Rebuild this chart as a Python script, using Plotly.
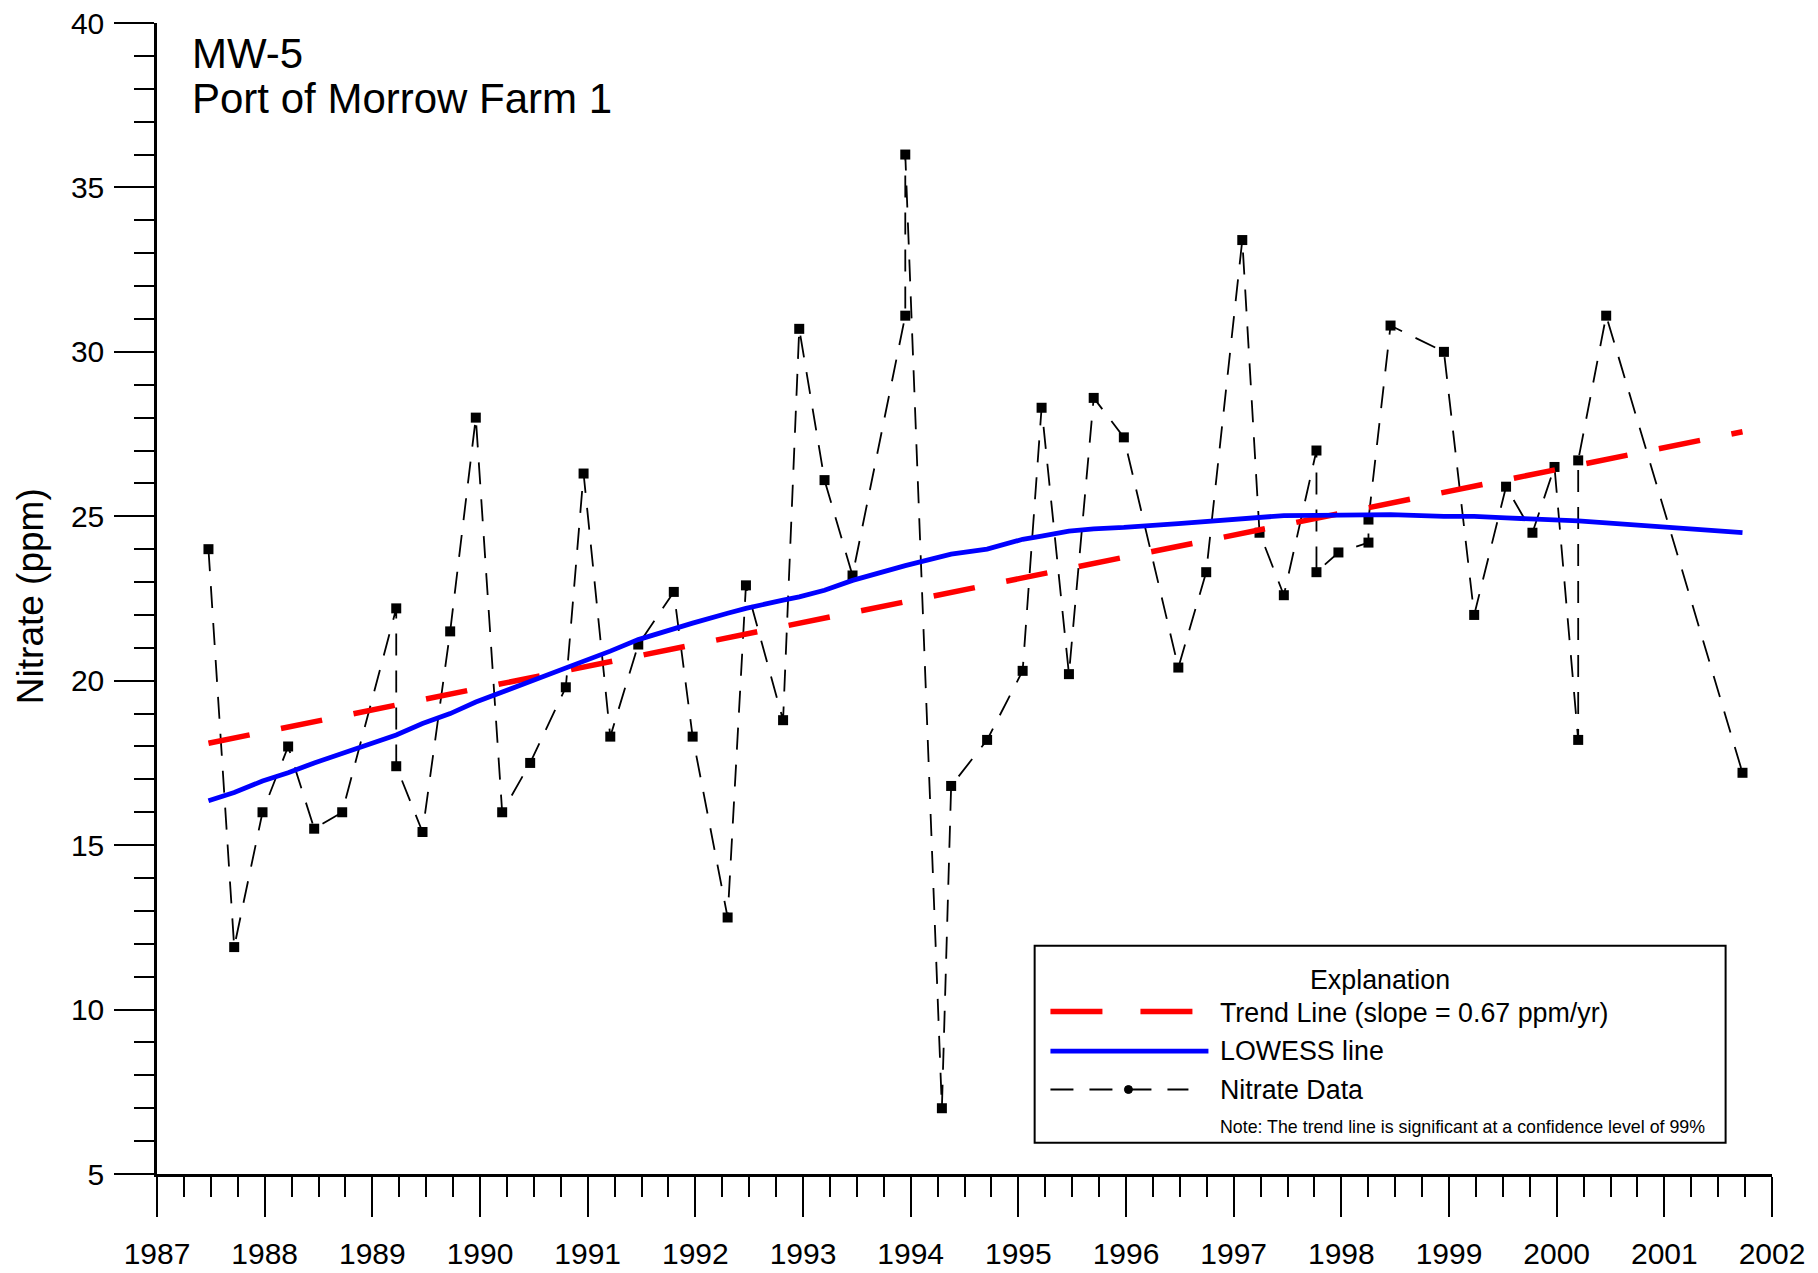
import plotly.graph_objects as go

# ---------------- data ----------------
dates = [1987.478, 1987.717, 1987.98, 1988.218, 1988.46, 1988.72, 1989.222, 1989.222,
         1989.466, 1989.723, 1989.961, 1990.206, 1990.466, 1990.797, 1990.962, 1991.21,
         1991.47, 1991.80, 1991.975, 1992.30, 1992.47, 1992.815, 1992.965, 1993.20,
         1993.46, 1993.95, 1993.95, 1994.29, 1994.376, 1994.71, 1995.04, 1995.216,
         1995.47, 1995.70, 1995.98, 1996.486, 1996.745, 1997.08, 1997.24, 1997.466,
         1997.769, 1997.769, 1997.973, 1998.252, 1998.252, 1998.457, 1998.953, 1999.234,
         1999.53, 1999.775, 1999.98, 2000.2, 2000.2, 2000.46, 2001.726]
nitrate = [24.0, 11.9, 16.0, 18.0, 15.5, 16.0, 22.2, 17.4,
           15.4, 21.5, 28.0, 16.0, 17.5, 19.8, 26.3, 18.3,
           21.1, 22.7, 18.3, 12.8, 22.9, 18.8, 30.7, 26.1,
           23.2, 31.1, 36.0, 7.0, 16.8, 18.2, 20.3, 28.3,
           20.2, 28.6, 27.4, 20.4, 23.3, 33.4, 24.5, 22.6,
           27.0, 23.3, 23.9, 24.2, 24.9, 30.8, 30.0, 22.0,
           25.9, 24.5, 26.5, 18.2, 26.7, 31.1, 17.2]

lowess_dates = sorted(set(dates))
lowess_values = [16.35, 16.6, 16.95, 17.2, 17.5, 17.8, 18.35, 18.7, 19.0, 19.35,
                 19.65, 20.0, 20.4, 20.6, 20.9, 21.25, 21.6, 21.75,
                 22.05, 22.2, 22.45, 22.55, 22.75, 23.05, 23.5,
                 23.8, 23.85, 24.0, 24.3, 24.4, 24.55, 24.62, 24.66,
                 24.78, 24.85, 24.92, 24.97, 25.02, 25.03, 25.03, 25.05, 25.05,
                 25.0, 25.0, 24.95, 24.93, 24.88, 24.86, 24.8, 24.5]

trend_dates = [1987.478, 2001.726]
trend_values = [18.1, 27.57]

year_ticks = list(range(1987, 2003))
y_ticks = [5, 10, 15, 20, 25, 30, 35, 40]

title_lines = ["MW-5", "Port of Morrow Farm 1"]
y_title = "Nitrate (ppm)"
legend_title = "Explanation"
legend_labels = ["Trend Line (slope = 0.67 ppm/yr)", "LOWESS line", "Nitrate Data"]
legend_note = "Note: The trend line is significant at a confidence level of 99%"

# ---------------- figure ----------------
FONT = "Liberation Sans, Arial, Helvetica, sans-serif"
W, H = 1818, 1273
ML, MR, MT, MB = 156.5, 46.4, 23.2, 98.5

fig = go.Figure()

fig.add_trace(go.Scatter(
    x=dates, y=nitrate, mode="lines+markers",
    line=dict(color="black", width=1.8, dash="22px,15px"),
    marker=dict(symbol="square", size=10, color="black"),
    showlegend=False, cliponaxis=False))

fig.add_trace(go.Scatter(
    x=trend_dates, y=trend_values, mode="lines",
    line=dict(color="#FF0000", width=5.5, dash="42px,32px"),
    showlegend=False))

fig.add_trace(go.Scatter(
    x=lowess_dates, y=lowess_values, mode="lines",
    line=dict(color="#0000FF", width=4.8),
    showlegend=False))

axis_common = dict(
    showline=True, linecolor="black", linewidth=2.5, mirror=False,
    showgrid=False, zeroline=False,
    ticks="outside", ticklen=40, tickwidth=2, tickcolor="black",
    tickfont=dict(family=FONT, size=30, color="black"),
)

fig.update_xaxes(
    range=[1987, 2002], tickvals=year_ticks, tickformat="d",
    minor=dict(dtick=0.25, tick0=1987, ticks="outside", ticklen=20,
               tickwidth=2, tickcolor="black", showgrid=False),
    ticklabelstandoff=11,
    **axis_common)

fig.update_yaxes(
    range=[5, 40], tickvals=y_ticks,
    minor=dict(dtick=1, tick0=5, ticks="outside", ticklen=20,
               tickwidth=2, tickcolor="black", showgrid=False),
    ticklabelstandoff=4,
    **axis_common)

pw = W - ML - MR
ph = H - MT - MB


def px_x(px):
    return (px - ML) / pw


def px_y(py):
    return (H - MB - py) / ph


annotations = [
    dict(text=title_lines[0], x=px_x(190), y=px_y(53.5), xanchor="left", yanchor="middle",
         font=dict(family=FONT, size=42, color="black")),
    dict(text=title_lines[1], x=px_x(190), y=px_y(99), xanchor="left", yanchor="middle",
         font=dict(family=FONT, size=42, color="black")),
    dict(text=y_title, x=px_x(30), y=px_y(597), textangle=-90, xanchor="center",
         yanchor="middle", font=dict(family=FONT, size=37, color="black")),
    dict(text=legend_title, x=px_x(1380), y=px_y(980), xanchor="center", yanchor="middle",
         font=dict(family=FONT, size=26.8, color="black")),
    dict(text=legend_labels[0], x=px_x(1218), y=px_y(1013), xanchor="left", yanchor="middle",
         font=dict(family=FONT, size=26.8, color="black")),
    dict(text=legend_labels[1], x=px_x(1218), y=px_y(1051.5), xanchor="left", yanchor="middle",
         font=dict(family=FONT, size=26.8, color="black")),
    dict(text=legend_labels[2], x=px_x(1218), y=px_y(1090), xanchor="left", yanchor="middle",
         font=dict(family=FONT, size=26.8, color="black")),
    dict(text=legend_note, x=px_x(1218), y=px_y(1127), xanchor="left", yanchor="middle",
         font=dict(family=FONT, size=17.8, color="black")),
]
for a in annotations:
    a.update(xref="paper", yref="paper", showarrow=False)

shapes = [
    dict(type="rect", x0=px_x(1034.2), x1=px_x(1725.2), y0=px_y(1143.2), y1=px_y(946.1),
         line=dict(color="black", width=2), fillcolor="white", layer="above"),
    dict(type="line", x0=px_x(1050), x1=px_x(1192), y0=px_y(1012), y1=px_y(1012),
         line=dict(color="#FF0000", width=5.5, dash="52px,38px")),
    dict(type="line", x0=px_x(1050), x1=px_x(1208), y0=px_y(1051.5), y1=px_y(1051.5),
         line=dict(color="#0000FF", width=4.8)),
    dict(type="line", x0=px_x(1050), x1=px_x(1188), y0=px_y(1090), y1=px_y(1090),
         line=dict(color="black", width=1.8, dash="23px,16px")),
    dict(type="circle", x0=px_x(1124), x1=px_x(1132), y0=px_y(1094), y1=px_y(1086),
         line=dict(color="black", width=1), fillcolor="black"),
]
for s in shapes:
    s.update(xref="paper", yref="paper")

fig.update_layout(
    width=W, height=H,
    margin=dict(l=ML, r=MR, t=MT, b=MB, pad=0, autoexpand=False),
    paper_bgcolor="white", plot_bgcolor="white",
    font=dict(family=FONT, color="black"),
    annotations=annotations, shapes=shapes,
    showlegend=False,
)

fig.write_html("out.html",
               config={"displayModeBar": False},
               post_script="document.body.style.margin='0';document.body.style.overflow='hidden';")
